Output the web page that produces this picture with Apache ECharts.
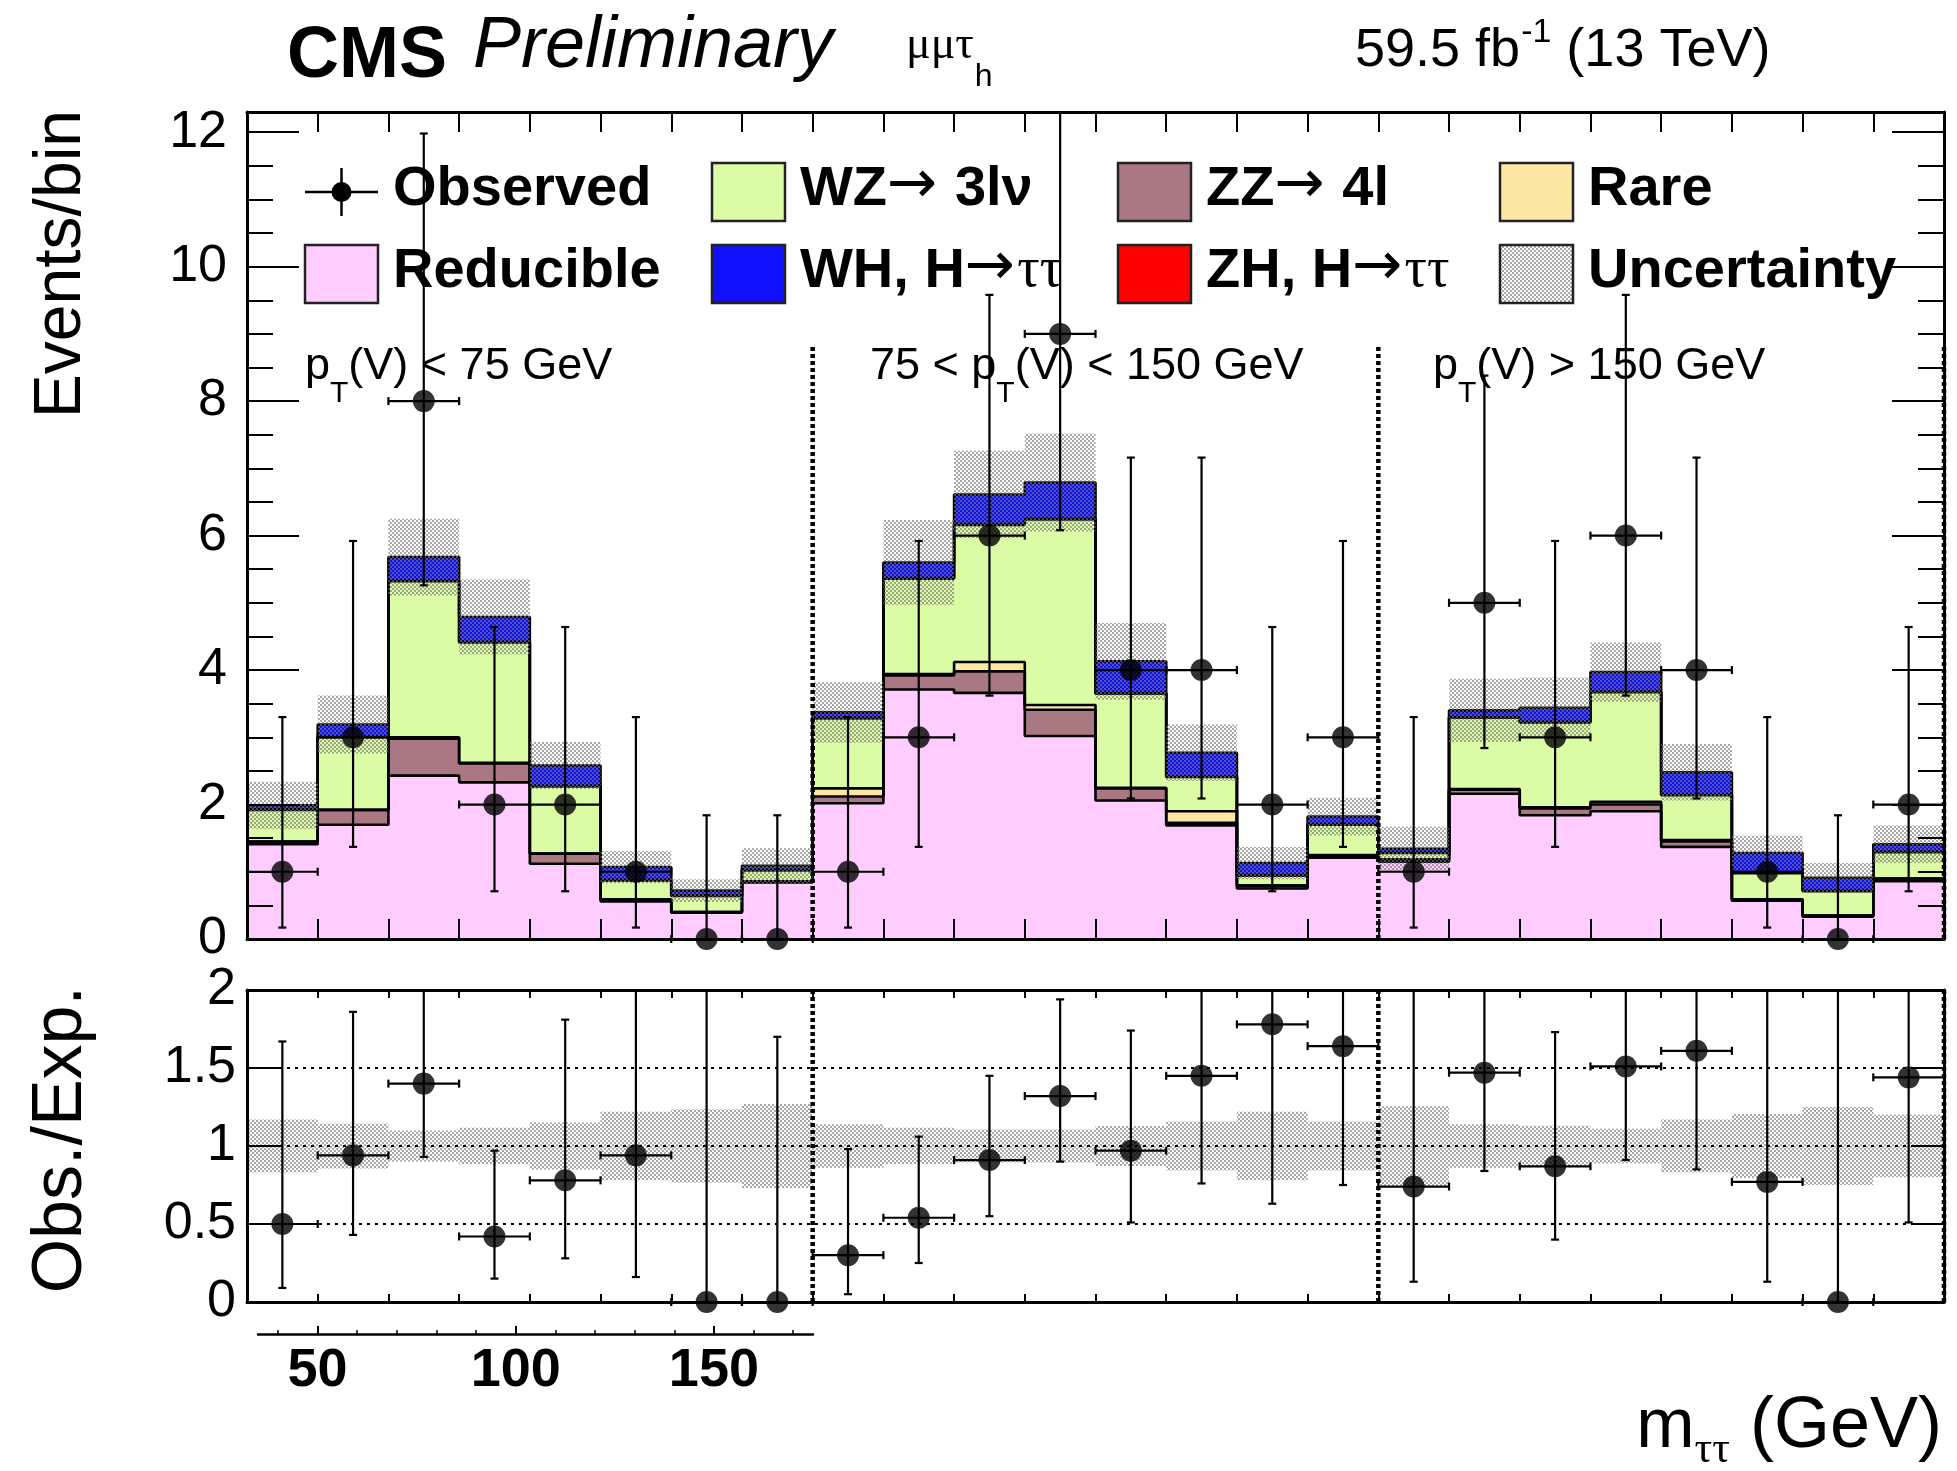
<!DOCTYPE html>
<html>
<head>
<meta charset="utf-8">
<title>CMS Preliminary - m_tautau, mumutau_h</title>
<script src="https://cdn.jsdelivr.net/npm/echarts@6.0.0/dist/echarts.min.js"></script>
<style>
html,body{margin:0;padding:0;background:#ffffff;}
#chart{width:1957px;height:1471px;}
</style>
</head>
<body>
<div id="chart"></div>
<script>
// ======================= DATA =======================
const NB = 24;                       // 3 regions x 8 m_tautau bins
const regionEdges = [8, 16, 24];     // bin index where each p_T(V) region ends
const separatorTop = 8.85;           // height of the dotted region separators (main panel)

const observed = [1, 3, 8, 2, 2, 1, 0, 0,   1, 3, 6, 9, 4, 4, 2, 3,   1, 5, 3, 6, 4, 1, 0, 2];
const obsLow   = [0.17, 1.37, 5.26, 0.71, 0.71, 0.17, 0, 0,
                  0.17, 1.37, 3.62, 6.08, 2.09, 2.09, 0.71, 1.37,
                  0.17, 2.84, 1.37, 3.62, 2.09, 0.17, 0, 0.71];
const obsHigh  = [3.30, 5.92, 11.98, 4.64, 4.64, 3.30, 1.84, 1.84,
                  3.30, 5.92, 9.58, 13.15, 7.16, 7.16, 4.64, 5.92,
                  3.30, 8.38, 5.92, 9.58, 7.16, 3.30, 1.84, 4.64];

// stacked backgrounds / signals (per-bin contributions, bottom to top)
const reducible = [1.41, 1.70, 2.43, 2.33, 1.12, 0.56, 0.39, 0.84,
                   2.02, 3.71, 3.66, 3.02, 2.06, 1.69, 0.75, 1.21,
                   1.15, 2.16, 1.84, 1.90, 1.37, 0.57, 0.33, 0.86];
const zzFourL   = [0.04, 0.22, 0.55, 0.28, 0.15, 0.03, 0.01, 0.02,
                   0.10, 0.21, 0.32, 0.39, 0.18, 0.04, 0.04, 0.03,
                   0.03, 0.06, 0.10, 0.10, 0.08, 0.02, 0.02, 0.04];
const rare      = [0.00, 0.00, 0.02, 0.01, 0.00, 0.00, 0.00, 0.00,
                   0.12, 0.02, 0.14, 0.07, 0.01, 0.17, 0.01, 0.01,
                   0.00, 0.01, 0.02, 0.04, 0.02, 0.00, 0.00, 0.00];
const wzThreeLNu = [0.47, 1.08, 2.32, 1.79, 1.00, 0.28, 0.24, 0.16,
                    1.04, 1.42, 2.04, 2.76, 1.40, 0.51, 0.14, 0.45,
                    0.10, 1.06, 1.26, 1.63, 0.67, 0.39, 0.36, 0.39];
const zhTauTau  = [0.01, 0.01, 0.01, 0.01, 0.01, 0.01, 0.01, 0.01,
                   0.01, 0.01, 0.01, 0.01, 0.01, 0.01, 0.01, 0.01,
                   0.01, 0.01, 0.01, 0.01, 0.01, 0.01, 0.01, 0.01];
const whTauTau  = [0.06, 0.18, 0.35, 0.37, 0.30, 0.19, 0.07, 0.06,
                   0.08, 0.23, 0.44, 0.54, 0.47, 0.35, 0.18, 0.11,
                   0.05, 0.10, 0.21, 0.29, 0.33, 0.29, 0.19, 0.11];
// absolute uncertainty (half width) of total expectation
const bkgUnc    = [0.35, 0.43, 0.57, 0.56, 0.35, 0.24, 0.17, 0.26,
                   0.45, 0.63, 0.65, 0.73, 0.57, 0.42, 0.24, 0.28,
                   0.33, 0.47, 0.45, 0.44, 0.42, 0.26, 0.22, 0.28];

// ratio panel
const ratio     = [0.50, 0.94, 1.40, 0.42, 0.78, 0.94, 0, 0,
                   0.30, 0.54, 0.91, 1.32, 0.97, 1.45, 1.78, 1.64,
                   0.74, 1.47, 0.87, 1.51, 1.61, 0.77, 0, 1.44];
const ratioLow  = [0.09, 0.43, 0.93, 0.15, 0.28, 0.16, 0, 0,
                   0.05, 0.25, 0.55, 0.90, 0.51, 0.76, 0.63, 0.75,
                   0.13, 0.84, 0.40, 0.91, 0.85, 0.13, 0, 0.51];
const ratioHigh = [1.67, 1.86, 2.11, 0.97, 1.81, 3.11, 2.59, 1.70,
                   0.98, 1.06, 1.45, 1.94, 1.74, 2.59, 4.14, 3.27,
                   2.48, 2.47, 1.73, 2.42, 2.90, 2.60, 2.04, 3.31];
const ratioUnc  = [0.17, 0.145, 0.10, 0.117, 0.15, 0.22, 0.235, 0.27,
                   0.14, 0.117, 0.106, 0.106, 0.128, 0.157, 0.22, 0.157,
                   0.255, 0.14, 0.13, 0.11, 0.17, 0.205, 0.25, 0.20];

// axis ticks / labels
const yMainMajor  = [0, 2, 4, 6, 8, 10, 12];
const yMainMinor  = [0.5, 1, 1.5, 2.5, 3, 3.5, 4.5, 5, 5.5, 6.5, 7, 7.5, 8.5, 9, 9.5, 10.5, 11, 11.5];
const yRatioLabels = [0, 0.5, 1, 1.5, 2];
const yRatioTicks  = [0.5, 1, 1.5];
const massMajor = [50, 100, 150];
const massMinor = [40, 60, 70, 80, 90, 110, 120, 130, 140, 160, 170];

// texts
const legendNames = ['Observed', 'Reducible', 'WZ\u2192 3l\u03bd', 'WH, H\u2192\u03c4\u03c4',
                     'ZZ\u2192 4l', 'ZH, H\u2192\u03c4\u03c4', 'Rare', 'Uncertainty'];

// ======================= STYLE / LAYOUT =======================
const FONT  = '"Liberation Sans", Arial, Helvetica, sans-serif';
const SERIF = '"Liberation Serif", "Times New Roman", serif';
const ARROWFONT = '"DejaVu Sans", "Liberation Sans", sans-serif';
const MAIN = {left: 247, top: 112, width: 1697, height: 827};
const RAT  = {left: 247, top: 990, width: 1697, height: 312};
const MASS = {left: 258, top: 1333, width: 555, height: 1};
const Y_MAIN_MAX = 12.3;

// bottom -> top order of the stack
const stackDefs = [
  {name: legendNames[1], data: reducible,  color: '#FFCCFF'},
  {name: legendNames[4], data: zzFourL,    color: '#AA7882'},
  {name: legendNames[6], data: rare,       color: '#FCE8A4'},
  {name: legendNames[2], data: wzThreeLNu, color: '#DCFBA5'},
  {name: legendNames[5], data: zhTauTau,   color: '#FF0000'},
  {name: legendNames[3], data: whTauTau,   color: '#1010FF'}
];

function makePattern() {
  const c = document.createElement('canvas');
  c.width = 4; c.height = 4;
  const g = c.getContext('2d');
  g.fillStyle = 'rgba(120,120,120,0.65)';
  g.fillRect(0, 0, 2, 2);
  g.fillRect(2, 2, 2, 2);
  return {image: c, repeat: 'repeat'};
}
const hatch = makePattern();

// ======================= derived (for drawing) =======================
// cumulative tops of each stack layer
const cumul = [];
stackDefs.forEach((s, k) => {
  cumul.push(s.data.map((v, i) => v + (k > 0 ? cumul[k - 1][i] : 0)));
});
const total = cumul[cumul.length - 1];
function stepData(arr) { const d = arr.map((v, i) => [i, v]); d.push([NB, arr[NB - 1]]); return d; }

// ======================= AXES =======================
const LINE = {show: true, onZero: false, lineStyle: {color: '#000', width: 3}};
const NOLINE = {show: false, onZero: false};
function binAxis(gridIndex, position, tickLen) {
  return {type: 'value', gridIndex, position, min: 0, max: NB, interval: 1, z: 10,
    axisLine: LINE,
    axisTick: {show: true, inside: true, length: tickLen, lineStyle: {color: '#000', width: 2}},
    axisLabel: {show: false}, splitLine: {show: false}};
}
const xAxes = [
  binAxis(0, 'bottom', 20),
  binAxis(0, 'top', 20),
  binAxis(1, 'bottom', 8),
  binAxis(1, 'top', 8),
  {type: 'value', gridIndex: 2, position: 'bottom', min: 35, max: 175, z: 10,
    axisLine: {show: true, onZero: false, lineStyle: {color: '#000', width: 2.5}},
    axisTick: {show: true, inside: true, length: 8, customValues: massMajor, lineStyle: {color: '#000', width: 2}},
    axisLabel: {show: true, customValues: massMajor, fontSize: 54, fontWeight: 'bold', fontFamily: FONT, color: '#000', margin: 10},
    splitLine: {show: false}},
  {type: 'value', gridIndex: 2, position: 'bottom', min: 35, max: 175, z: 10,
    axisLine: NOLINE,
    axisTick: {show: true, inside: true, length: 4, customValues: massMinor, lineStyle: {color: '#000', width: 1.5}},
    axisLabel: {show: false}, splitLine: {show: false}}
];
function yAx(gridIndex, position, min, max, line, tickVals, tickLen, labelVals, extra) {
  return Object.assign({type: 'value', gridIndex, position, min, max, z: 10,
    axisLine: line ? LINE : NOLINE,
    axisTick: {show: true, inside: true, length: tickLen, customValues: tickVals, lineStyle: {color: '#000', width: 2}},
    axisLabel: labelVals ? {show: true, customValues: labelVals, fontSize: 52, fontFamily: FONT, color: '#000', margin: 20} : {show: false},
    splitLine: {show: false}}, extra || {});
}
const yAxes = [
  yAx(0, 'left', 0, Y_MAIN_MAX, true, yMainMajor, 52, yMainMajor),
  yAx(0, 'left', 0, Y_MAIN_MAX, false, yMainMinor, 26, null),
  yAx(0, 'right', 0, Y_MAIN_MAX, true, yMainMajor, 52, null),
  yAx(0, 'right', 0, Y_MAIN_MAX, false, yMainMinor, 26, null),
  yAx(1, 'left', 0, 2, true, yRatioTicks, 35, yRatioLabels, {interval: 0.5,
      splitLine: {show: true, lineStyle: {color: '#000', width: 2, type: [3, 5]}}}),
  yAx(1, 'right', 0, 2, true, yRatioTicks, 32, null),
  {type: 'value', gridIndex: 2, min: 0, max: 1, show: false}
];
yAxes[4].axisLabel.margin = 11;

// ======================= SERIES =======================
const series = [];
// filled areas: top layer first, each filled down to 0, lower layers painted over it
for (let k = stackDefs.length - 1; k >= 0; k--) {
  series.push({type: 'line', name: stackDefs[k].name, xAxisIndex: 0, yAxisIndex: 0, step: 'end',
    data: stepData(cumul[k]), symbol: 'none', showSymbol: false, silent: true, z: 2,
    lineStyle: {width: 0, opacity: 0}, areaStyle: {color: stackDefs[k].color, opacity: 1, origin: 'start'}});
}
// black outlines of every layer
for (let k = 0; k < stackDefs.length; k++) {
  series.push({type: 'line', name: stackDefs[k].name + ' outline', xAxisIndex: 0, yAxisIndex: 0, step: 'end',
    data: stepData(cumul[k]), symbol: 'none', showSymbol: false, silent: true, z: 3,
    lineStyle: {color: '#000', width: 2.6}});
}

function bandRender(params, api) {
  const i = api.value(0);
  const a = api.coord([i, api.value(2)]);
  const b = api.coord([i + 1, api.value(1)]);
  return {type: 'rect', shape: {x: a[0], y: a[1], width: b[0] - a[0], height: b[1] - a[1]},
    style: {fill: hatch}};
}
series.push({type: 'custom', name: 'Uncertainty', xAxisIndex: 0, yAxisIndex: 0, z: 4, silent: true,
  data: total.map((t, i) => [i, t - bkgUnc[i], t + bkgUnc[i]]), renderItem: bandRender});
series.push({type: 'custom', name: 'Uncertainty ratio', xAxisIndex: 2, yAxisIndex: 4, z: 4, silent: true,
  data: ratioUnc.map((u, i) => [i, 1 - u, 1 + u]), renderItem: bandRender});

function sepRender(params, api) {
  const x = api.value(0);
  const a = api.coord([x, api.value(1)]);
  const b = api.coord([x, api.value(2)]);
  return {type: 'line', shape: {x1: a[0], y1: a[1], x2: b[0], y2: b[1]},
    style: {stroke: '#000', lineWidth: 4.5, lineDash: [4, 3]}};
}
series.push({type: 'custom', xAxisIndex: 0, yAxisIndex: 0, z: 5, silent: true, clip: false,
  data: regionEdges.map(e => [e, 0, separatorTop]), renderItem: sepRender});
series.push({type: 'custom', xAxisIndex: 2, yAxisIndex: 4, z: 5, silent: true, clip: false,
  data: regionEdges.map(e => [e, 0, 2]), renderItem: sepRender});

function errRender(yMax) {
  return function (params, api) {
    const i = api.value(0), v = api.value(1), lo = api.value(2), hi = api.value(3);
    const hiC = Math.min(hi, yMax);
    const c = api.coord([i + 0.5, v]);
    const L = api.coord([i, v]), R = api.coord([i + 1, v]);
    const pl = api.coord([i + 0.5, lo]), ph = api.coord([i + 0.5, hiC]);
    const st = {stroke: '#000', lineWidth: 2.2};
    const ch = [
      {type: 'line', shape: {x1: c[0], y1: pl[1], x2: c[0], y2: ph[1]}, style: st},
      {type: 'line', shape: {x1: L[0], y1: c[1], x2: R[0], y2: c[1]}, style: st},
      {type: 'line', shape: {x1: L[0], y1: c[1] - 4, x2: L[0], y2: c[1] + 4}, style: st},
      {type: 'line', shape: {x1: R[0], y1: c[1] - 4, x2: R[0], y2: c[1] + 4}, style: st},
      {type: 'line', shape: {x1: c[0] - 4, y1: pl[1], x2: c[0] + 4, y2: pl[1]}, style: st}
    ];
    if (hi <= yMax) ch.push({type: 'line', shape: {x1: c[0] - 4, y1: ph[1], x2: c[0] + 4, y2: ph[1]}, style: st});
    return {type: 'group', children: ch};
  };
}
series.push({type: 'custom', name: 'Observed errors', xAxisIndex: 0, yAxisIndex: 0, z: 6, silent: true, clip: false,
  data: observed.map((v, i) => [i, v, obsLow[i], obsHigh[i]]), renderItem: errRender(Y_MAIN_MAX)});
series.push({type: 'scatter', name: 'Observed', xAxisIndex: 0, yAxisIndex: 0, z: 7, silent: true, clip: false,
  symbol: 'circle', symbolSize: 22, itemStyle: {color: '#000'},
  data: observed.map((v, i) => [i + 0.5, v])});
series.push({type: 'custom', name: 'Ratio errors', xAxisIndex: 2, yAxisIndex: 4, z: 6, silent: true, clip: false,
  data: ratio.map((v, i) => [i, v, ratioLow[i], ratioHigh[i]]), renderItem: errRender(2)});
series.push({type: 'scatter', name: 'Ratio', xAxisIndex: 2, yAxisIndex: 4, z: 7, silent: true, clip: false,
  symbol: 'circle', symbolSize: 22, itemStyle: {color: '#000'},
  data: ratio.map((v, i) => [i + 0.5, v])});
// empty series so the mass-axis grid has a coordinate system user
series.push({type: 'line', xAxisIndex: 4, yAxisIndex: 6, data: [], silent: true});

// ======================= TEXT / LEGEND (graphic) =======================
const mctx = document.createElement('canvas').getContext('2d');
function fontStr(p) {
  return (p.style || 'normal') + ' ' + (p.weight || 'normal') + ' ' + p.size + 'px ' + (p.family || FONT);
}
function textW(t, f) { mctx.font = f; return mctx.measureText(t).width; }
const graphics = [];
function addText(x, baseline, t, p, extra) {
  const f = fontStr(p);
  graphics.push(Object.assign({type: 'text', x: x, y: baseline - 0.345 * p.size, z: 20, silent: true,
    style: {text: t, font: f, fill: '#000', align: 'left', verticalAlign: 'middle', textAlign: 'left', textVerticalAlign: 'middle'}}, extra || {}));
  return textW(t, f);
}
function pieces(x, baseline, list) {
  let cx = x;
  list.forEach(p => { cx += addText(cx, baseline + (p.dy || 0), p.t, p) + (p.gap || 0); });
  return cx;
}
function piecesWidth(list) { return list.reduce((s, p) => s + textW(p.t, fontStr(p)) + (p.gap || 0), 0); }

// title
pieces(287, 82, [{t: 'CMS', size: 72, weight: 'bold'}]);
pieces(473, 72, [{t: 'Preliminary', size: 72, style: 'italic'}]);
(function () {
  const x = pieces(906, 62, [{t: '\u03bc\u03bc\u03c4', size: 46, family: SERIF}]);
  pieces(x + 1, 88, [{t: 'h', size: 32}]);
})();
(function () {
  let x = 1355;
  x = pieces(x, 70, [{t: '59.5 fb', size: 54}]);
  x = pieces(x + 1, 44, [{t: '-1', size: 34}]);
  pieces(x, 70, [{t: ' (13 TeV)', size: 54}]);
})();

// region labels
const regionLabelPieces = [
  {x: 305, list: [{t: 'p', size: 45}, {t: 'T', size: 30, dy: 22}, {t: '(V) < 75 GeV', size: 45}]},
  {x: 870, list: [{t: '75 < p', size: 45}, {t: 'T', size: 30, dy: 22}, {t: '(V) < 150 GeV', size: 45}]},
  {x: 1433, list: [{t: 'p', size: 45}, {t: 'T', size: 30, dy: 22}, {t: '(V) > 150 GeV', size: 45}]}
];
regionLabelPieces.forEach(r => pieces(r.x, 382, r.list));

// axis titles
graphics.push({type: 'text', x: 62, y: 110, rotation: Math.PI / 2, z: 20, silent: true,
  style: {text: 'Events/bin', font: fontStr({size: 66}), fill: '#000', align: 'right', verticalAlign: 'middle', textAlign: 'right', textVerticalAlign: 'middle'}});
graphics.push({type: 'text', x: 62, y: 986, rotation: Math.PI / 2, z: 20, silent: true,
  style: {text: 'Obs./Exp.', font: fontStr({size: 70}), fill: '#000', align: 'right', verticalAlign: 'middle', textAlign: 'right', textVerticalAlign: 'middle'}});
(function () {
  const list = [{t: 'm', size: 70}, {t: '\u03c4\u03c4', size: 44, family: SERIF, dy: 14}, {t: ' (GeV)', size: 72}];
  const w = piecesWidth(list);
  pieces(1942 - w, 1452, list);
})();

// legend
const legCols = [305, 712, 1118, 1500];
const legRows = [163, 245];
const BOXW = 73, BOXH = 58, LEGSIZE = 56;
const ARROW = {t: '\u2192', size: 60, family: ARROWFONT, dy: -2, gap: 2};
const legendEntries = [
  {col: 0, row: 0, kind: 'obs', list: [{t: legendNames[0], size: LEGSIZE, weight: 'bold'}]},
  {col: 0, row: 1, fill: '#FFCCFF', list: [{t: legendNames[1], size: LEGSIZE, weight: 'bold'}]},
  {col: 1, row: 0, fill: '#DCFBA5', list: [{t: 'WZ', size: LEGSIZE, weight: 'bold'}, ARROW,
      {t: ' 3l\u03bd', size: LEGSIZE, weight: 'bold'}]},
  {col: 1, row: 1, fill: '#1010FF', list: [{t: 'WH, H', size: LEGSIZE, weight: 'bold'}, ARROW,
      {t: '\u03c4\u03c4', size: LEGSIZE, family: SERIF}]},
  {col: 2, row: 0, fill: '#AA7882', list: [{t: 'ZZ', size: LEGSIZE, weight: 'bold'}, ARROW,
      {t: ' 4l', size: LEGSIZE, weight: 'bold'}]},
  {col: 2, row: 1, fill: '#FF0000', list: [{t: 'ZH, H', size: LEGSIZE, weight: 'bold'}, ARROW,
      {t: '\u03c4\u03c4', size: LEGSIZE, family: SERIF}]},
  {col: 3, row: 0, fill: '#FCE8A4', list: [{t: legendNames[6], size: LEGSIZE, weight: 'bold'}]},
  {col: 3, row: 1, fill: hatch, list: [{t: legendNames[7], size: LEGSIZE, weight: 'bold'}]}
];
legendEntries.forEach(e => {
  const bx = legCols[e.col], by = legRows[e.row];
  if (e.kind === 'obs') {
    const cx = bx + BOXW / 2, cy = by + BOXH / 2;
    graphics.push({type: 'line', z: 20, silent: true, shape: {x1: bx, y1: cy, x2: bx + BOXW, y2: cy}, style: {stroke: '#000', lineWidth: 2.5}});
    graphics.push({type: 'line', z: 20, silent: true, shape: {x1: cx, y1: by + 5, x2: cx, y2: by + BOXH - 5}, style: {stroke: '#000', lineWidth: 2.5}});
    graphics.push({type: 'circle', z: 21, silent: true, shape: {cx: cx, cy: cy, r: 10}, style: {fill: '#000'}});
  } else {
    if (e.fill === hatch) {
      graphics.push({type: 'rect', z: 20, silent: true, shape: {x: bx, y: by, width: BOXW, height: BOXH}, style: {fill: '#fff'}});
    }
    graphics.push({type: 'rect', z: 20, silent: true, shape: {x: bx, y: by, width: BOXW, height: BOXH},
      style: {fill: e.fill, stroke: '#222', lineWidth: 2.5}});
  }
  pieces(bx + 88, by + 46, e.list);
});

// ======================= CHART =======================
const chart = echarts.init(document.getElementById('chart'), null, {renderer: 'canvas', width: 1957, height: 1471});
chart.setOption({
  animation: false,
  backgroundColor: '#ffffff',
  textStyle: {fontFamily: FONT},
  grid: [
    Object.assign({show: false}, MAIN),
    Object.assign({show: false}, RAT),
    Object.assign({show: false}, MASS)
  ],
  xAxis: xAxes,
  yAxis: yAxes,
  series: series,
  graphic: {elements: graphics}
});
</script>
</body>
</html>
